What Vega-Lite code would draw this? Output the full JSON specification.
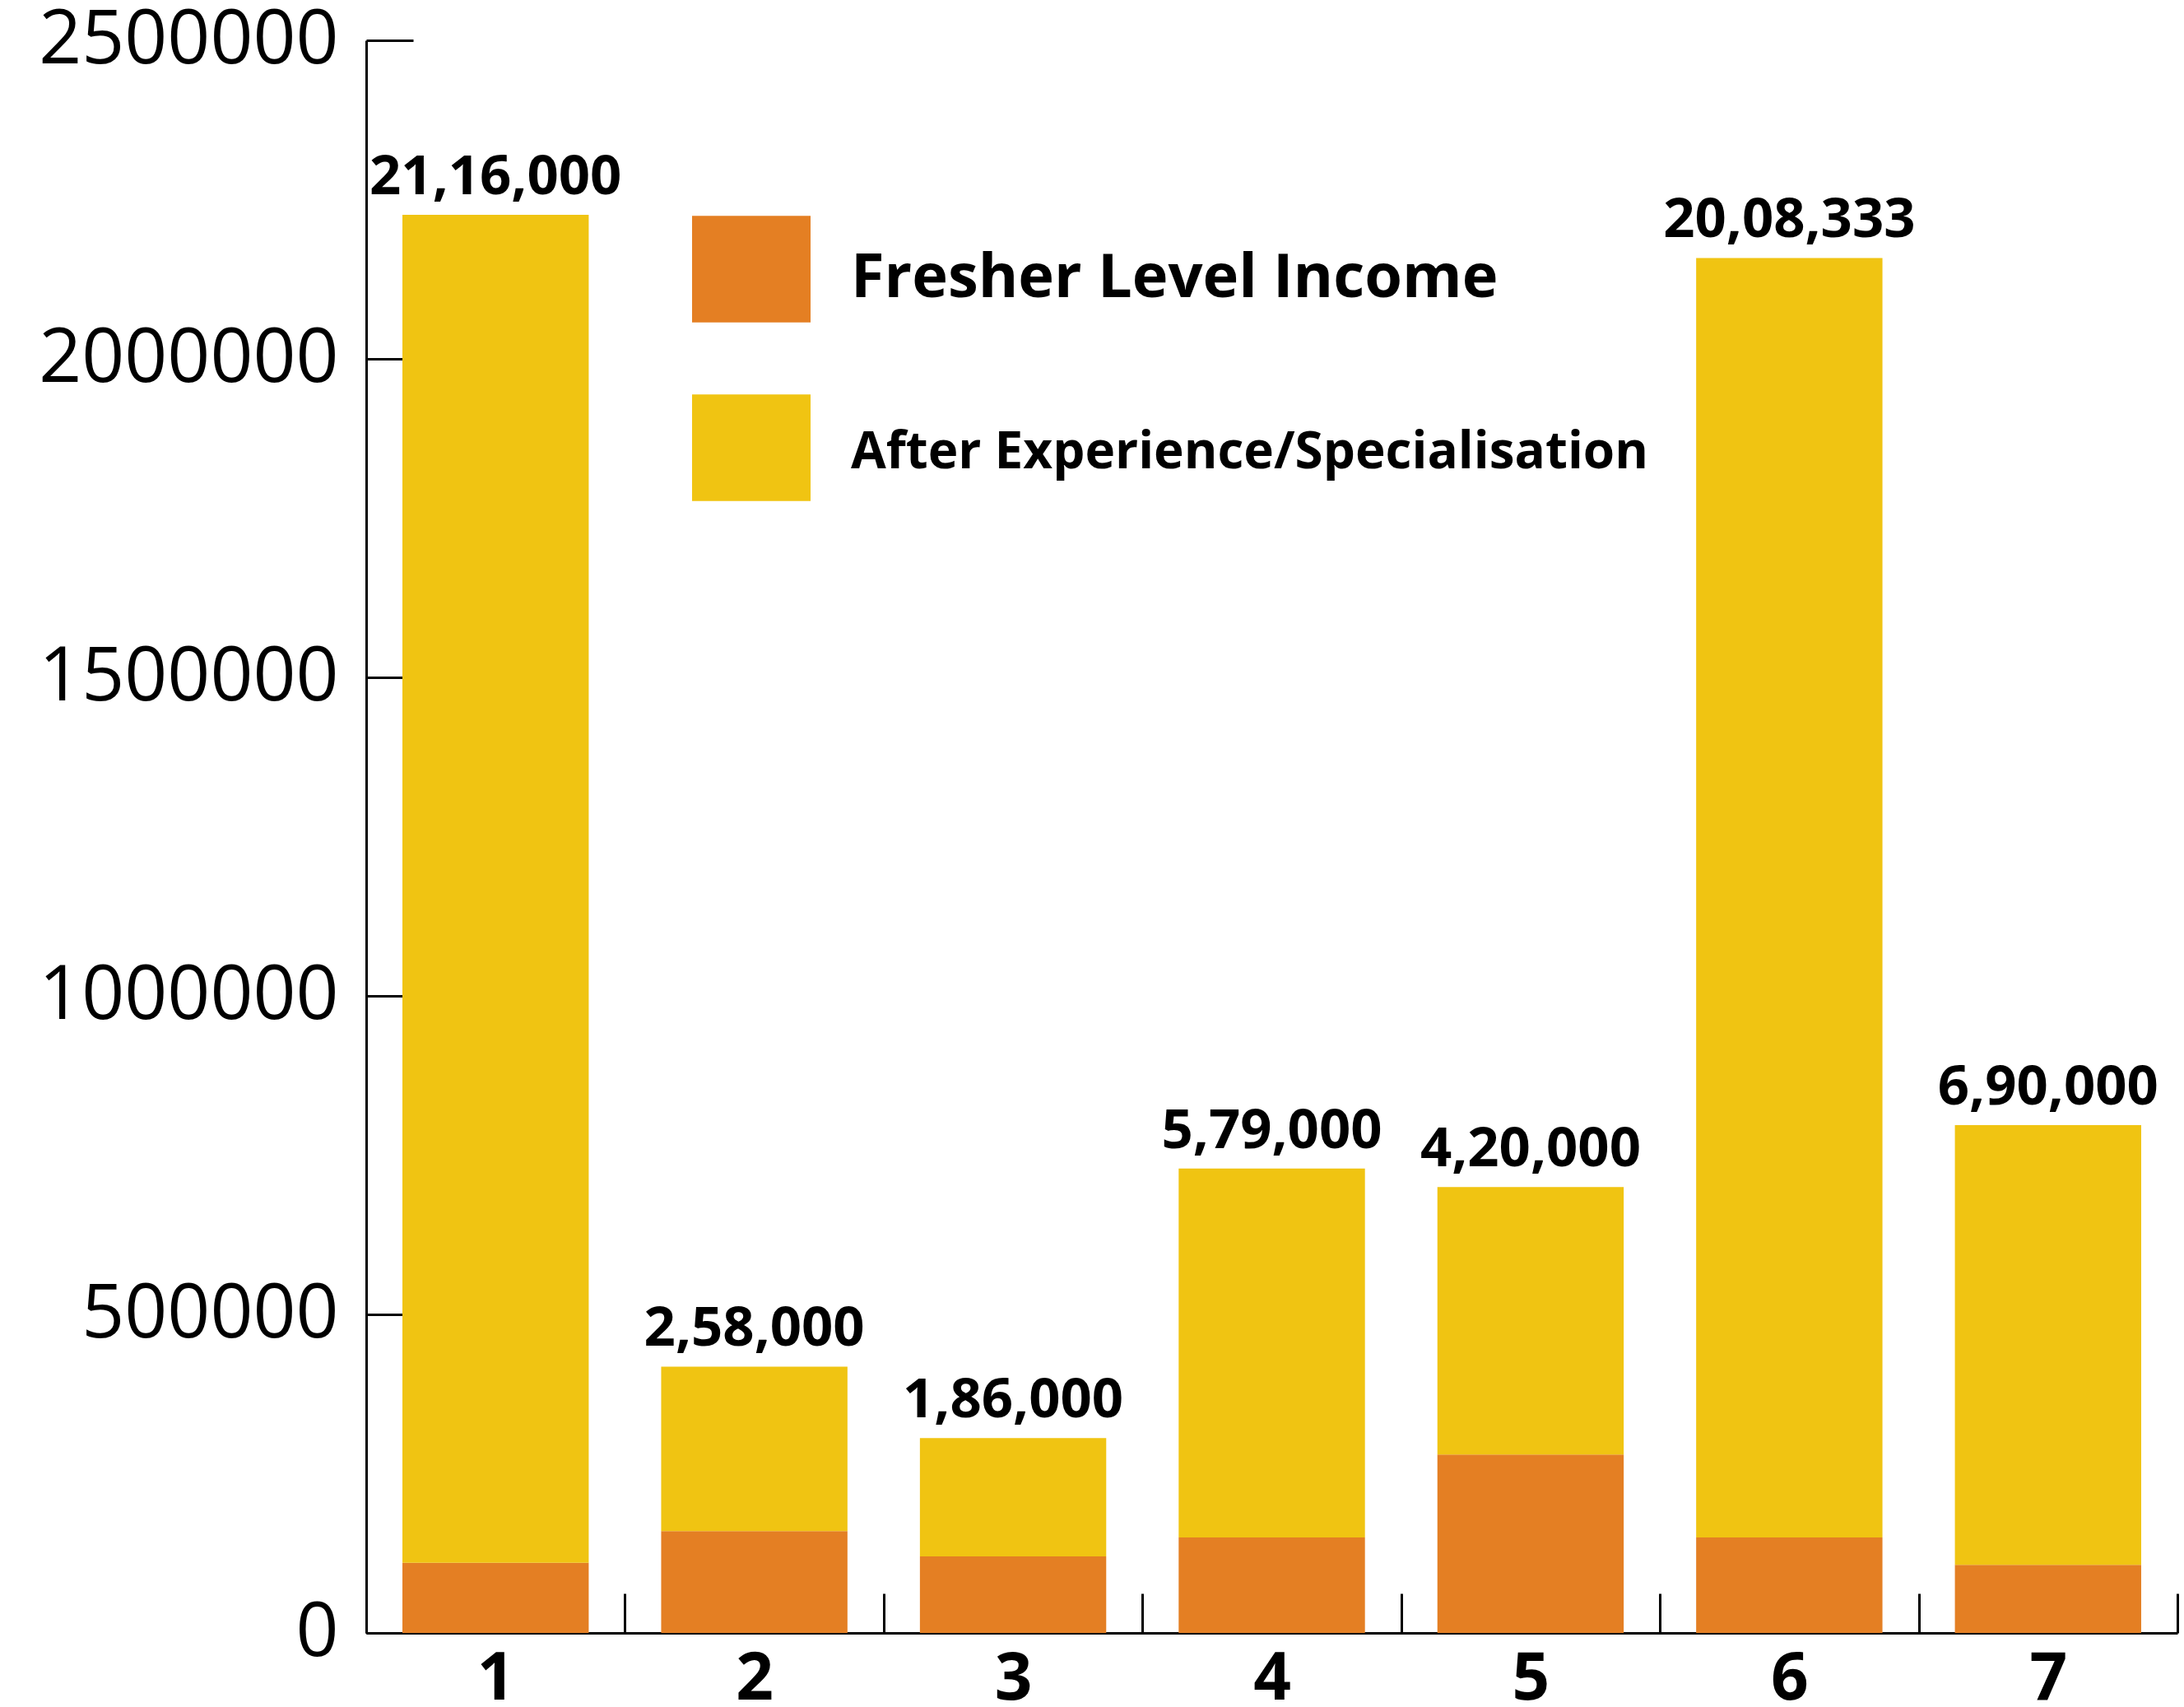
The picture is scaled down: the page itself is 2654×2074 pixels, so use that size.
{
  "$schema": "https://vega.github.io/schema/vega-lite/v6.json",
  "width": 2201,
  "height": 1935,
  "autosize": {"type": "none"},
  "padding": {"left": 445, "top": 49, "right": 8, "bottom": 90},
  "background": "white",
  "config": {"view": {"stroke": null}, "font": "Open Sans"},
  "data": {
    "values": [
      {"category": "1", "series": "Fresher Level Income", "value": 110000, "label": ""},
      {"category": "1", "series": "After Experience/Specialisation", "value": 2116000, "label": "21,16,000"},
      {"category": "2", "series": "Fresher Level Income", "value": 160000, "label": ""},
      {"category": "2", "series": "After Experience/Specialisation", "value": 258000, "label": "2,58,000"},
      {"category": "3", "series": "Fresher Level Income", "value": 120000, "label": ""},
      {"category": "3", "series": "After Experience/Specialisation", "value": 186000, "label": "1,86,000"},
      {"category": "4", "series": "Fresher Level Income", "value": 150000, "label": ""},
      {"category": "4", "series": "After Experience/Specialisation", "value": 579000, "label": "5,79,000"},
      {"category": "5", "series": "Fresher Level Income", "value": 280000, "label": ""},
      {"category": "5", "series": "After Experience/Specialisation", "value": 420000, "label": "4,20,000"},
      {"category": "6", "series": "Fresher Level Income", "value": 150000, "label": ""},
      {"category": "6", "series": "After Experience/Specialisation", "value": 2008333, "label": "20,08,333"},
      {"category": "7", "series": "Fresher Level Income", "value": 107000, "label": ""},
      {"category": "7", "series": "After Experience/Specialisation", "value": 690000, "label": "6,90,000"}
    ]
  },
  "encoding": {
    "x": {
      "field": "category",
      "type": "ordinal",
      "scale": {"paddingInner": 0, "paddingOuter": 0},
      "axis": {
        "title": null,
        "grid": false,
        "labelAngle": 0,
        "domainColor": "black",
        "domainWidth": 3,
        "tickColor": "black",
        "tickWidth": 3,
        "tickSize": -48,
        "tickBand": "extent",
        "labelFont": "Open Sans",
        "labelFontWeight": "bold",
        "labelFontSize": 80,
        "labelColor": "black",
        "labelPadding": 65
      }
    },
    "y": {
      "field": "value",
      "type": "quantitative",
      "stack": "zero",
      "scale": {"domain": [0, 2500000], "nice": false},
      "axis": {
        "title": null,
        "grid": false,
        "values": [0, 500000, 1000000, 1500000, 2000000, 2500000],
        "format": "d",
        "domainColor": "black",
        "domainWidth": 3,
        "tickColor": "black",
        "tickWidth": 3,
        "tickSize": -57,
        "labelFont": "Open Sans",
        "labelFontWeight": "normal",
        "labelFontSize": 91,
        "labelColor": "black",
        "labelPadding": 91,
        "labelLimit": 0
      }
    },
    "order": {"field": "series", "sort": "descending"}
  },
  "layer": [
    {
      "mark": {"type": "bar", "width": {"band": 0.72}},
      "encoding": {
        "color": {
          "field": "series",
          "type": "nominal",
          "scale": {
            "domain": ["Fresher Level Income", "After Experience/Specialisation"],
            "range": ["#E47F23", "#F0C412"]
          },
          "legend": {
            "orient": "none",
            "legendX": 396,
            "legendY": 206,
            "title": null,
            "padding": 0,
            "symbolType": "M-1,-0.9H1V0.9H-1Z",
            "symbolSize": 20736,
            "symbolStrokeWidth": 0,
            "symbolOpacity": 1,
            "labelFont": "Open Sans",
            "labelFontWeight": "bold",
            "labelFontSize": 74,
            "labelColor": "black",
            "labelOffset": 49,
            "labelLimit": 0,
            "rowPadding": 80,
            "encode": {
              "labels": {
                "update": {
                  "fontSize": {"signal": "datum.value === 'Fresher Level Income' ? 74 : 62"},
                  "dy": {"signal": "datum.value === 'Fresher Level Income' ? 12 : 6"}
                }
              }
            }
          }
        }
      }
    },
    {
      "mark": {
        "type": "text",
        "font": "Open Sans",
        "fontWeight": "bold",
        "fontSize": 67,
        "baseline": "alphabetic",
        "dy": -25,
        "color": "black"
      },
      "encoding": {
        "text": {"field": "label"},
        "detail": {"field": "series"}
      }
    }
  ]
}
